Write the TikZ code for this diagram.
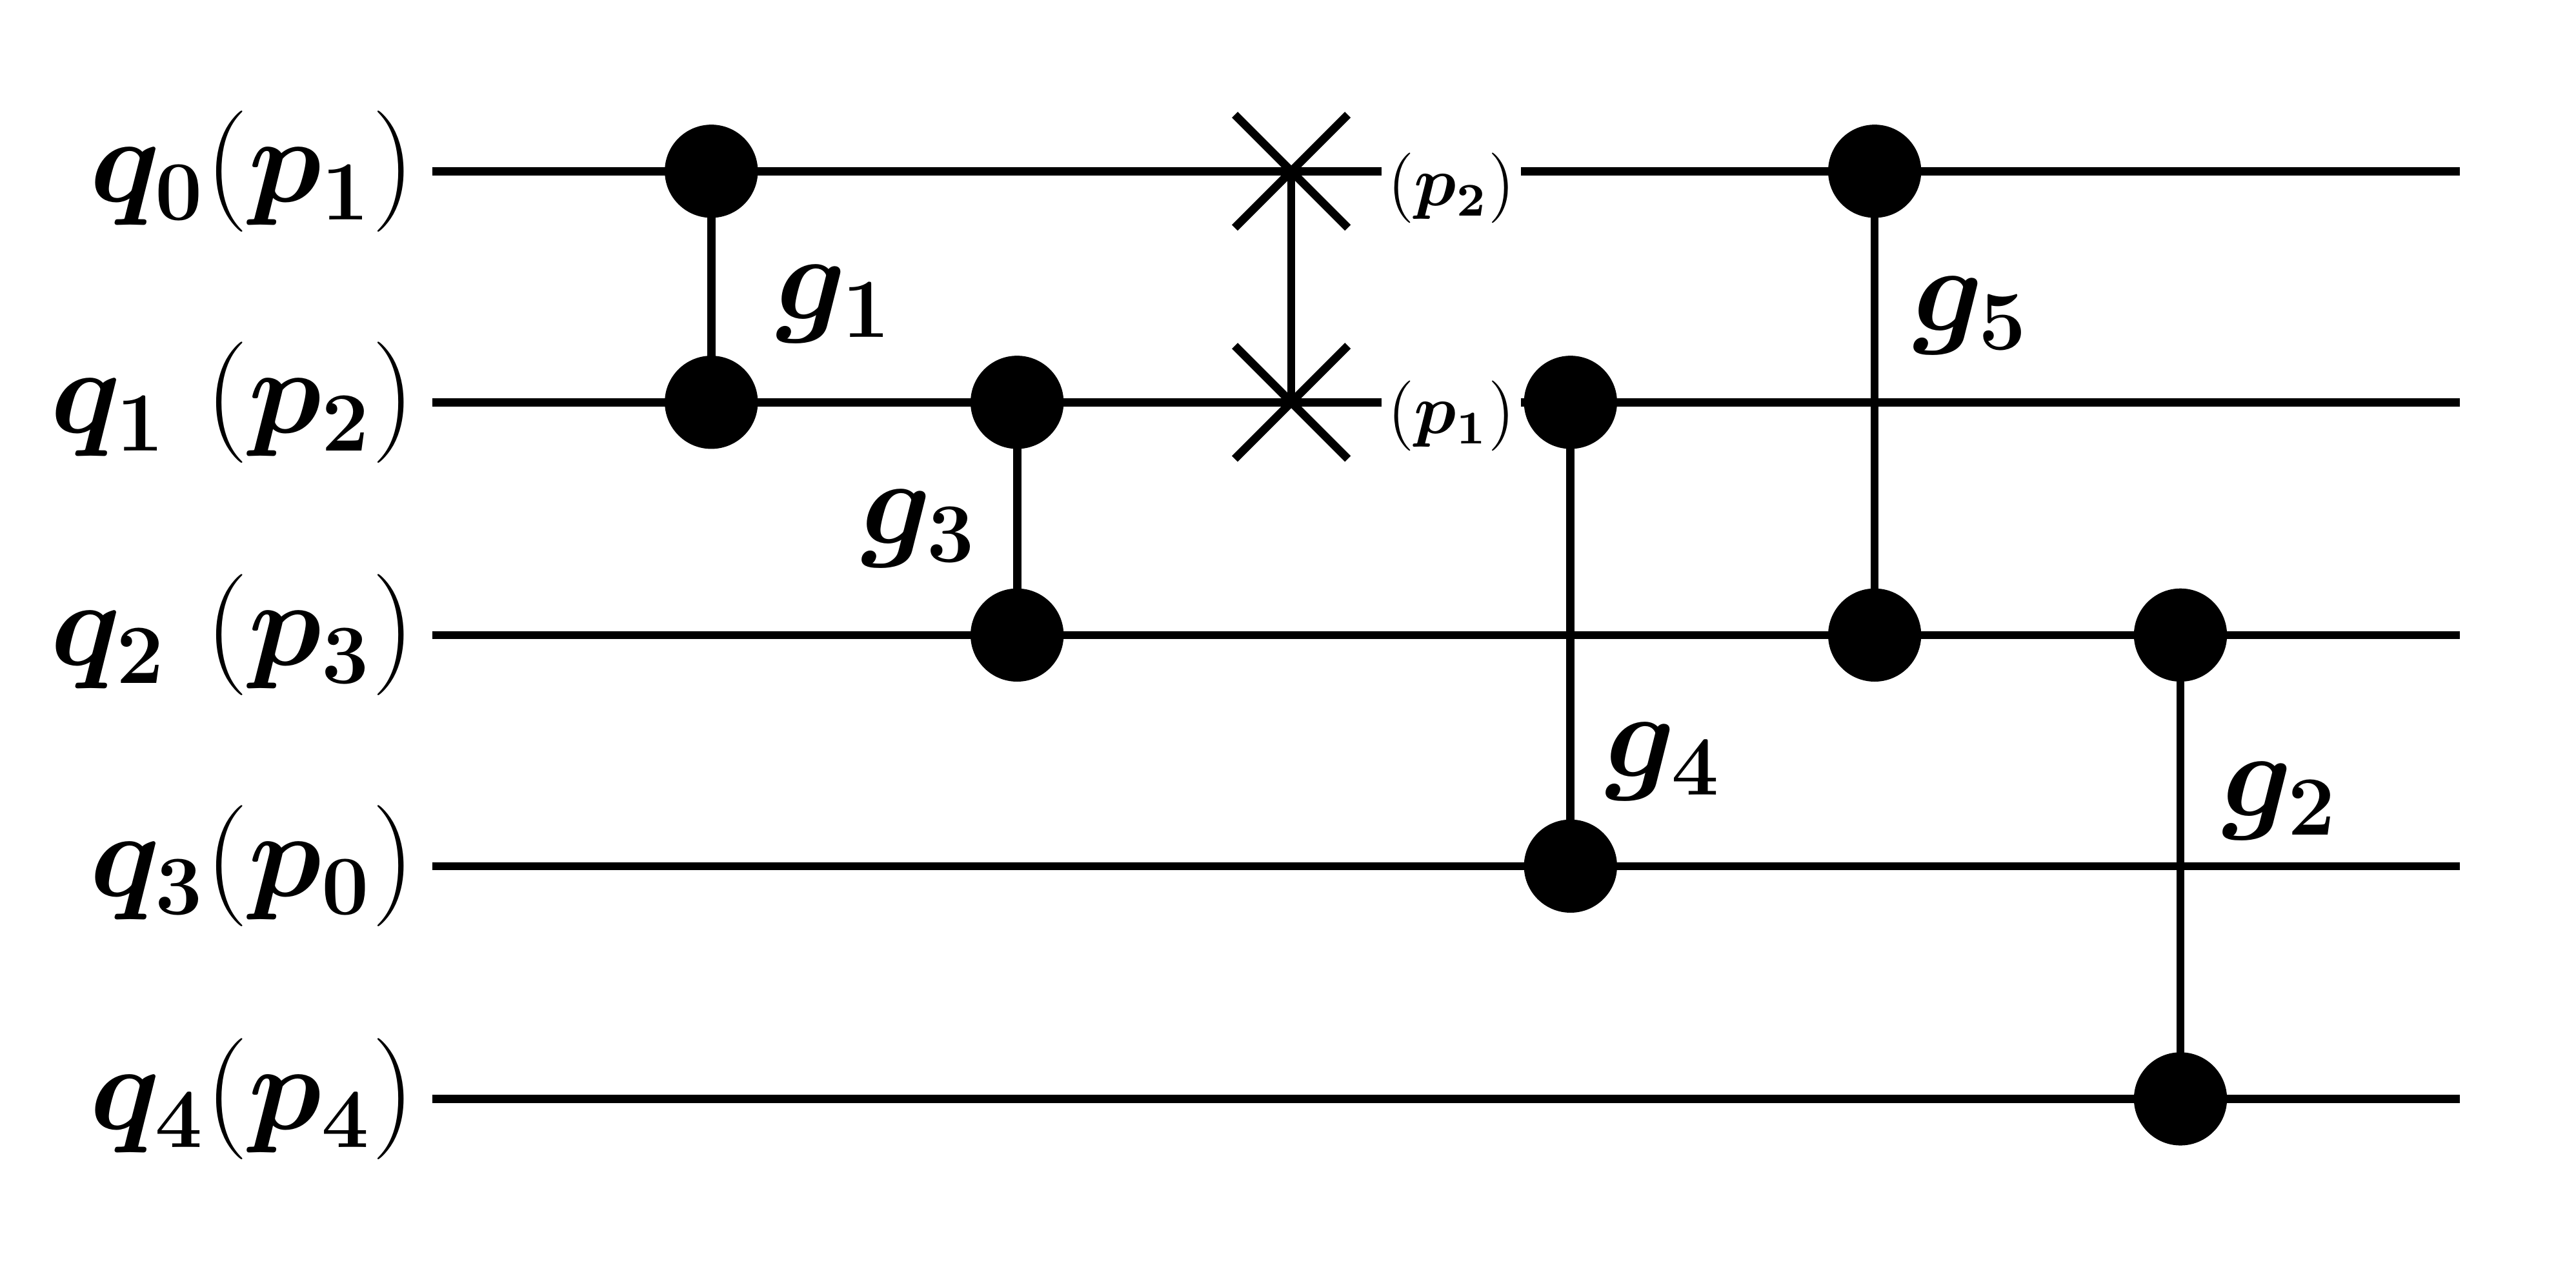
\documentclass[tikz,border=0pt]{standalone}
\usepackage{amsmath,bm}
\begin{document}
\begin{tikzpicture}[x=0.01cm,y=-0.01cm,line width=1.4pt,
  dot/.style={circle,fill=black,inner sep=0pt,outer sep=-2pt,minimum size=0.56cm},
  lab/.style={font=\fontsize{22}{26}\selectfont,inner sep=0pt},
  slab/.style={font=\fontsize{12}{14}\selectfont,inner sep=1pt,anchor=west}]
\useasboundingbox (0,0) rectangle (1550,763);
\foreach \i/\y/\t in {0/103/{\bm{q_0}(\bm{p_1})},1/242/{\bm{q_1}\ (\bm{p_2})},2/382/{\bm{q_2}\ (\bm{p_3})},3/521/{\bm{q_3}(\bm{p_0})},4/661/{\bm{q_4}(\bm{p_4})}}{
  \node[lab,anchor=east] (w\i) at (252,\y) {$\t$};
  \coordinate (e\i) at (1480,\y);
  \draw (260,\y) -- (e\i);
}
\node[dot] (a0) at (428,103) {}; \node[dot] (a1) at (428,242) {}; \draw (a0)--(a1);
\node[dot] (b1) at (612,242) {}; \node[dot] (b2) at (612,382) {}; \draw (b1)--(b2);
\coordinate (s0) at (777,103); \coordinate (s1) at (777,242); \draw (s0)--(s1);
\foreach \s in {s0,s1}{\draw (\s)+(-34,-34)--+(34,34); \draw (\s)+(-34,34)--+(34,-34);}
\node[dot] (c1) at (945,242) {}; \node[dot] (c3) at (945,521) {}; \draw (c1)--(c3);
\node[dot] (d0) at (1128,103) {}; \node[dot] (d2) at (1128,382) {}; \draw (d0)--(d2);
\node[dot] (f2) at (1312,382) {}; \node[dot] (f4) at (1312,661) {}; \draw (f2)--(f4);
\node[fill=white,slab] (sp2) at (829,113) {$(\bm{p_2})$};
\node[fill=white,slab] (sp1) at (829,250) {$(\bm{p_1})$};
\node[lab] (g1) at (502,183) {$\bm{g_1}$};
\node[lab] (g3) at (553,318) {$\bm{g_3}$};
\node[lab] (g5) at (1186,190) {$\bm{g_5}$};
\node[lab] (g4) at (1001,458) {$\bm{g_4}$};
\node[lab] (g2) at (1372,482) {$\bm{g_2}$};
\end{tikzpicture}
\end{document}
